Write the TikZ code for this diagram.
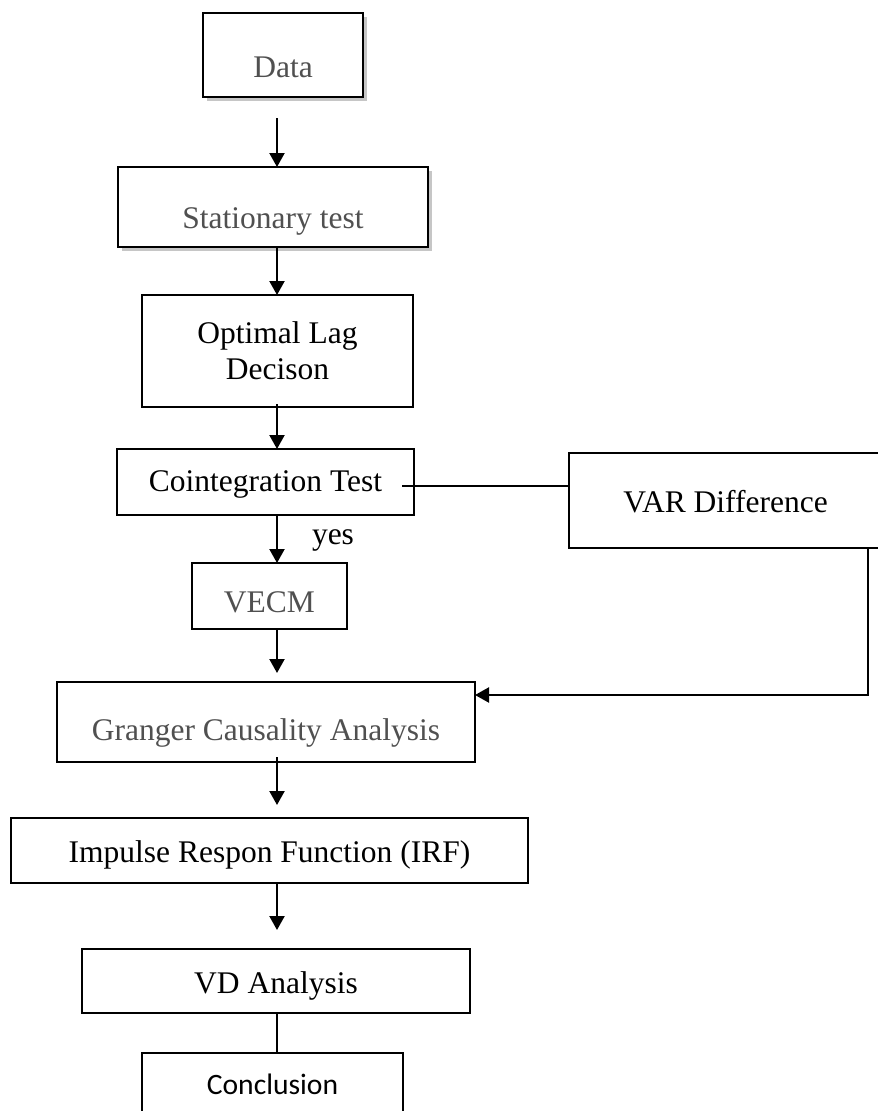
\documentclass[tikz,border=0pt]{standalone}
\usepackage{fontspec}
\setmainfont{Liberation Serif}
\newfontfamily\calib{Carlito}
\usetikzlibrary{arrows.meta,shadows,calc}
\definecolor{txtgray}{RGB}{80,80,80}
\begin{document}
\begin{tikzpicture}[x=1pt,y=-1pt,
  box/.style={draw, line width=2.8pt, inner sep=0pt, outer sep=0pt, fill=white,
    font=\fontsize{31.5}{36}\selectfont},
  shadowed/.style={general shadow={fill=gray!45, shadow xshift=4pt, shadow yshift=-4pt}},
  flowarrow/.style={line width=2.2pt, -{Triangle[length=14pt,width=15pt]}},
  flowline/.style={line width=2.2pt}]
\useasboundingbox (0,0) rectangle (878,1111);

\node[box, shadowed, text=txtgray, minimum width=160pt, minimum height=84pt,
  text height=64pt, text depth=20pt] (data) at (283,55) {Data};
\node[box, shadowed, text=txtgray, minimum width=310pt, minimum height=80pt,
  text height=61pt, text depth=19pt] (stat) at (273,207) {Stationary test};
\node[box, minimum width=271pt, minimum height=112pt, align=center] (opt) at (277.5,351)
  {Optimal Lag\\Decison};
\node[box, minimum width=297pt, minimum height=66pt,
  text height=42pt, text depth=24pt] (coint) at (265.5,482) {Cointegration Test\hspace{18pt}};
\node[box, minimum width=313pt, minimum height=95pt,
  text height=59pt, text depth=36pt] (var) at (725.5,500.5) {VAR Difference};
\node[box, text=txtgray, minimum width=155pt, minimum height=66pt,
  text height=49pt, text depth=17pt] (vecm) at (269.5,596) {VECM};
\node[box, text=txtgray, minimum width=418pt, minimum height=80pt,
  text height=58pt, text depth=22pt] (gca) at (266,722) {Granger Causality Analysis};
\node[box, minimum width=517pt, minimum height=65pt,
  text height=44pt, text depth=21pt] (irf) at (269.5,850.5) {Impulse Respon Function (IRF)};
\node[box, minimum width=388pt, minimum height=64pt,
  text height=44pt, text depth=20pt] (vd) at (276,981) {VD Analysis};
\node[box, font=\calib\fontsize{29.6}{34}\selectfont, minimum width=261pt, minimum height=72pt,
  text height=41pt, text depth=31pt] (concl) at (272.5,1089) {Conclusion};

\node[anchor=base, inner sep=0pt, font=\fontsize{31.5}{36}\selectfont] (yes) at (333,544) {yes};

\coordinate (ax) at (277,0);
\draw[flowarrow, shorten <=21pt] (data.south -| ax) -- (stat.north -| ax);
\draw[flowarrow] (stat.south -| ax) -- (opt.north -| ax);
\draw[flowarrow] ([yshift=3pt]opt.south -| ax) -- (coint.north -| ax);
\draw[flowarrow] (coint.south -| ax) -- (vecm.north -| ax);
\draw[flowarrow, shorten >=9pt] (vecm.south -| ax) -- (gca.north -| ax);
\draw[flowarrow, shorten >=13pt] ([yshift=5pt]gca.south -| ax) -- (irf.north -| ax);
\draw[flowarrow, shorten >=19pt] (irf.south -| ax) -- (vd.north -| ax);
\draw[flowline] (vd.south -| ax) -- (concl.north -| ax);

\coordinate (c1) at ([xshift=-12pt,yshift=-4pt]coint.east);
\draw[flowline] (c1) -- (c1 -| var.west);
\coordinate (v1) at ([xshift=-14pt]var.south east);
\coordinate (v2) at ([yshift=27pt]gca.east);
\draw[flowarrow] (v1) |- (v2);
\end{tikzpicture}
\end{document}
